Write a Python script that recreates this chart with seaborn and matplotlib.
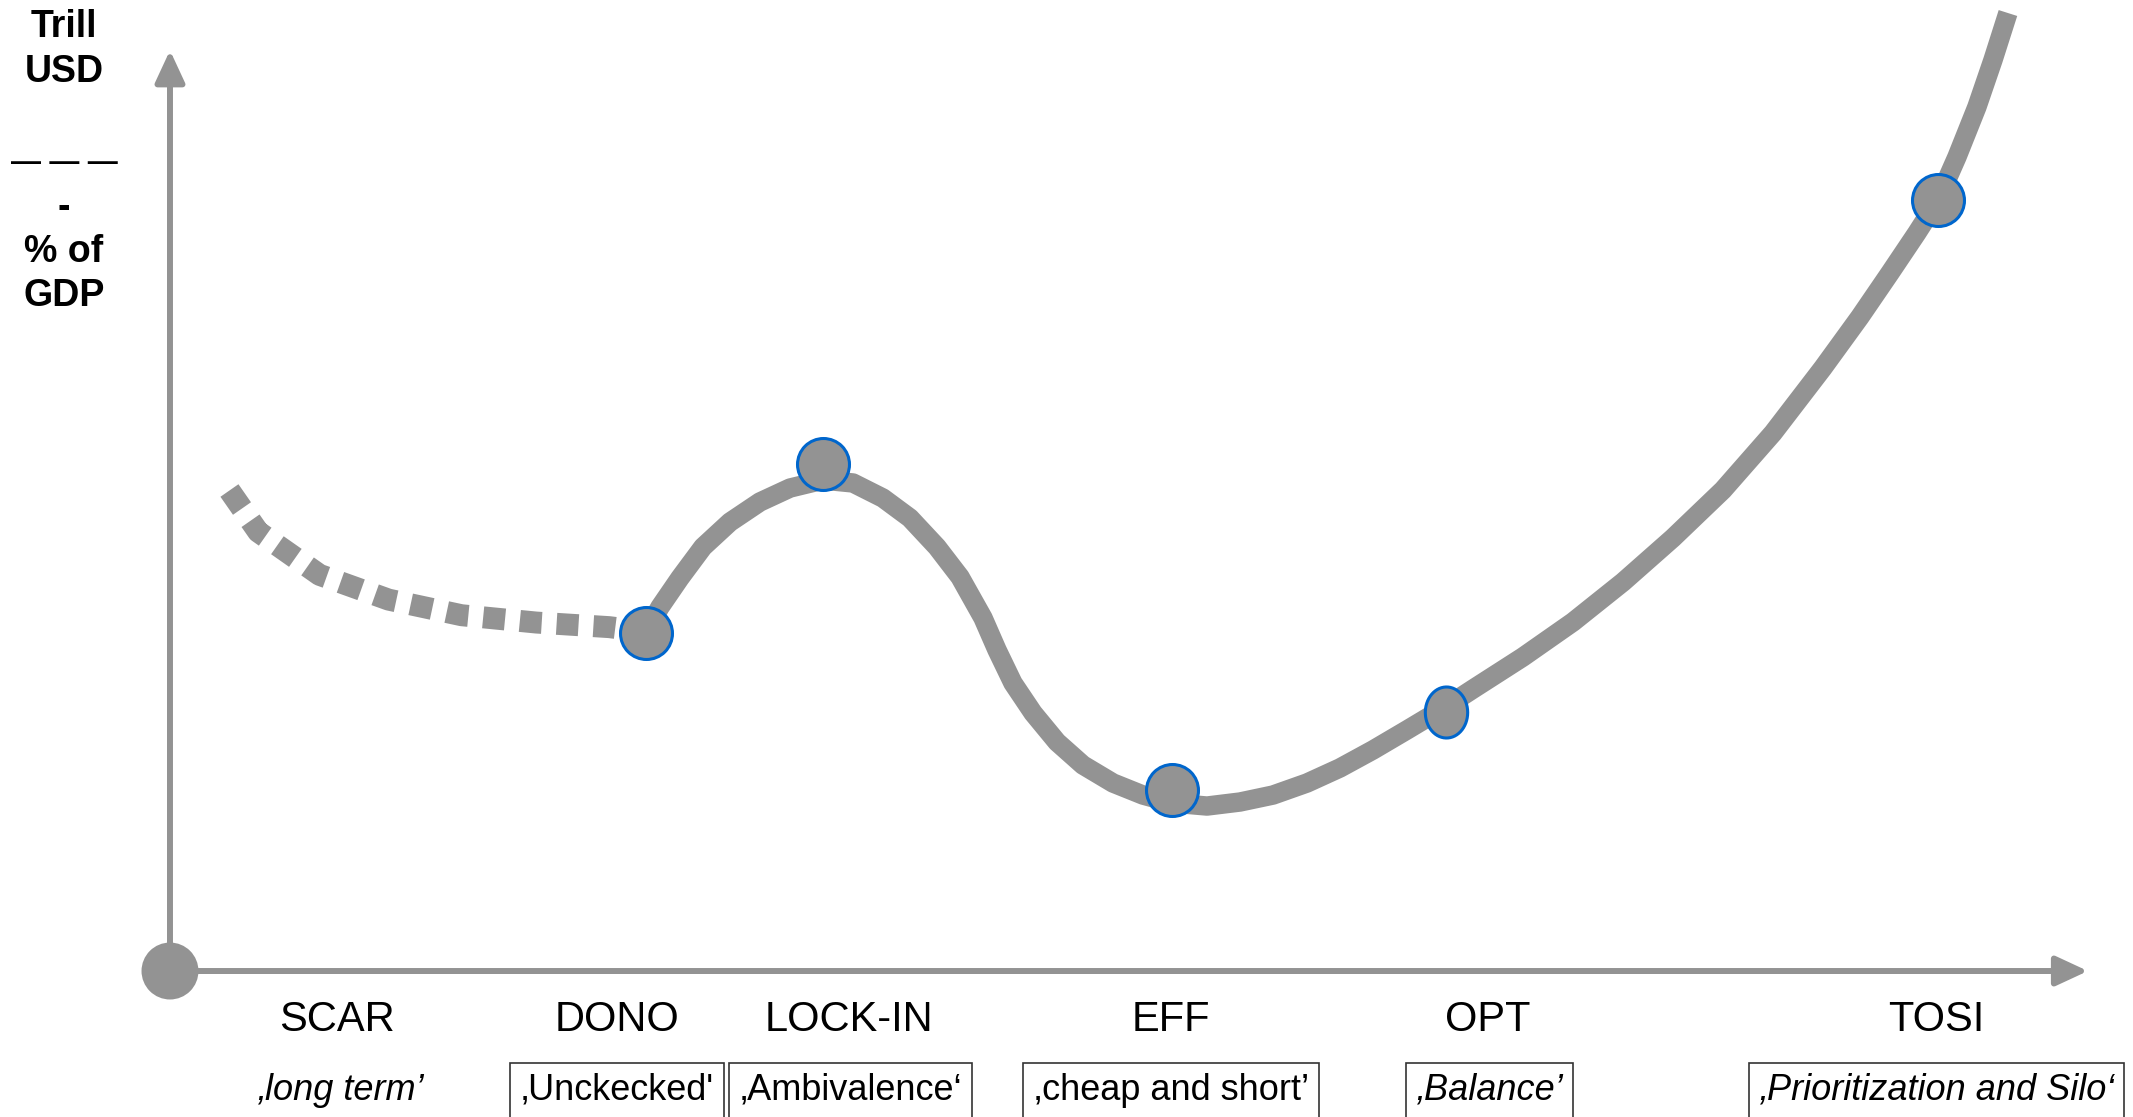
import numpy as np
import pandas as pd
import seaborn as sns
import matplotlib.pyplot as plt
from matplotlib.path import Path

# stages along the horizontal axis
stages = ["SCAR", "DONO", "LOCK-IN", "EFF", "OPT", "TOSI"]
stage_x = [8.7, 23.3, 35.4, 52.2, 68.7, 92.1]
quotes = ["\u201along term\u2019", "\u201aUnckecked'", "\u201aAmbivalence\u2018",
          "\u201acheap and short\u2019", "\u201aBalance\u2019", "\u201aPrioritization and Silo\u2018"]
quote_x = [8.9, 23.3, 35.5, 52.2, 68.8, 92.1]
quote_italic = [True, False, False, False, True, True]
quote_boxed = [False, True, True, True, True, True]

# dotted early path (SCAR -> DONO)
dash_x = [3.1, 4.6, 7.8, 11.4, 15.2, 19.1, 22.9, 24.8]
dash_y = [52.4, 47.9, 43.2, 40.5, 38.8, 38.0, 37.5, 37.0]

# main curve (DONO -> TOSI and beyond)
curve_x = [24.82, 25.55, 26.59, 27.79, 29.20, 30.76, 32.33, 34.05, 35.61, 37.17,
           38.58, 39.99, 41.19, 42.39, 43.12, 43.95, 45.00, 46.25, 47.60, 49.17,
           50.73, 52.24, 54.07, 55.79, 57.51, 59.28, 61.00, 62.72, 64.49, 66.58,
           67.94, 70.54, 73.15, 75.76, 78.36, 80.97, 83.58, 86.18, 88.11, 89.68,
           91.08, 92.18, 93.17, 94.21, 95.05, 95.83]
curve_y = [36.97, 39.69, 42.86, 46.24, 48.96, 51.15, 52.67, 53.54, 53.22, 51.58,
           49.40, 46.24, 42.97, 38.50, 35.01, 31.41, 28.14, 24.97, 22.46, 20.50,
           19.19, 18.32, 17.99, 18.43, 19.19, 20.50, 22.14, 24.10, 26.28, 28.90,
           30.75, 34.24, 38.06, 42.42, 47.22, 52.45, 58.67, 65.76, 71.32, 76.12,
           80.48, 84.08, 88.77, 94.22, 99.35, 104.47]

# highlighted stage points
point_x = [24.82, 34.05, 52.24, 92.18]
point_y = [36.86, 55.29, 19.74, 84.08]
opt_x = [66.55]
opt_y = [28.3]

sns.set_theme(style="white")
plt.rcParams['font.family'] = ['Liberation Sans', 'DejaVu Sans']
plt.rcParams['text.color'] = 'black'

grey = '#939393'
blue = '#0066CC'

fig = plt.figure(figsize=(21.33, 11.17), dpi=100)
ax = fig.add_axes([0, 0, 1, 1])
ax.set_xlim(-8.863, 102.35)
ax.set_ylim(-15.92, 105.89)
ax.axis('off')

# axes arrows
arrow = dict(arrowstyle='-|>,head_length=0.97,head_width=0.45', mutation_scale=20,
             lw=4.3, color=grey, shrinkA=0, shrinkB=0)
ax.annotate('', xy=(0, 100.4), xytext=(0, 0), arrowprops=arrow)
ax.annotate('', xy=(100, 0), xytext=(0, 0), arrowprops=arrow)

# curves
sns.lineplot(x=dash_x, y=dash_y, sort=False, estimator=None, ax=ax, color=grey,
             lw=15.8, linestyle=(0, (1.0, 0.68)), dash_capstyle='butt',
             dash_joinstyle='round', clip_on=False)
sns.lineplot(x=curve_x, y=curve_y, sort=False, estimator=None, ax=ax, color=grey,
             lw=14.0, solid_capstyle='butt', solid_joinstyle='round', clip_on=False)

# origin dot
sns.scatterplot(x=[0], y=[0], ax=ax, s=1681, color=grey, edgecolor='none', zorder=5)

# stage markers
sns.scatterplot(x=point_x, y=point_y, ax=ax, s=1400, color=grey, edgecolor=blue,
                linewidth=2.2, zorder=6)
theta = np.linspace(0, 2 * np.pi, 60)
ellipse = Path(np.column_stack([0.83 * np.cos(theta), np.sin(theta)]), closed=True)
sns.scatterplot(x=opt_x, y=opt_y, ax=ax, s=1350, marker=ellipse, color=grey,
                edgecolor=blue, linewidth=2.2, zorder=6)

# y label
ax.text(-5.53, 100.5, "Trill\nUSD", ha='center', va='center', fontsize=27,
        fontweight='bold', linespacing=1.3, multialignment='center')
ax.text(-5.53, 87.2, "\u2014 \u2014 \u2014", ha='center', va='baseline', fontsize=21.6,
        fontweight='bold')
ax.text(-5.53, 78.4, "-\n% of\nGDP", ha='center', va='center', fontsize=27,
        fontweight='bold', linespacing=1.3, multialignment='center')

# stage names and quotes
for name, x in zip(stages, stage_x):
    ax.text(x, -5.3, name, ha='center', va='center', fontsize=30)

for q, x, it, boxed in zip(quotes, quote_x, quote_italic, quote_boxed):
    bbox = dict(boxstyle='square,pad=0.28', fc='white', ec='#333333', lw=1.2) if boxed else None
    ax.text(x, -13.0, q, ha='center', va='center', fontsize=26,
            style='italic' if it else 'normal', bbox=bbox)

fig.savefig('out.png', dpi=100)
